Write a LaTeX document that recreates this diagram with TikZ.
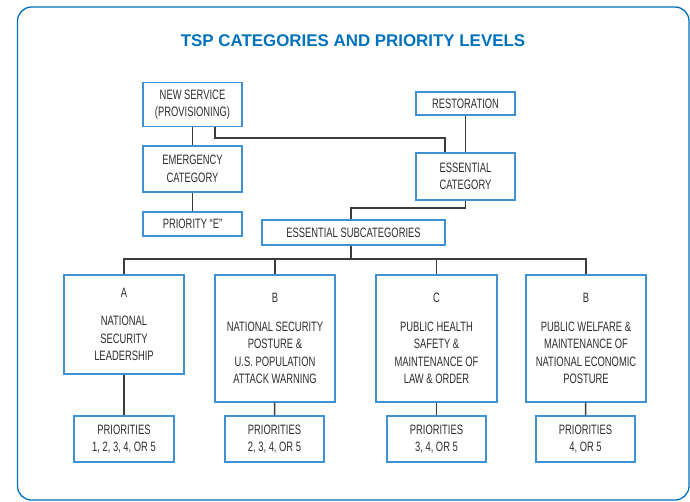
\documentclass[tikz,border=0pt]{standalone}
\usepackage{fontspec}
\setmainfont{Liberation Sans}
\newfontfamily\narrowfont{Liberation Sans}[FakeStretch=0.69]
\definecolor{tspblue}{RGB}{0,114,188}
\definecolor{boxblue}{RGB}{62,146,212}
\definecolor{inkgray}{RGB}{45,45,45}
\definecolor{linegray}{RGB}{60,60,60}
\tikzset{
	catbox/.style={draw=boxblue, line width=1.3pt, fill=white, text=inkgray, align=center,
		font=\narrowfont\fontsize{13.6}{17.5}\selectfont, inner sep=2pt, minimum width=99pt},
	link/.style={draw=linegray, line width=1.4pt},
}
\begin{document}
\begin{tikzpicture}[x=10pt,y=-10pt]
		\useasboundingbox (0,0) rectangle (69,50.1);
		\draw[tspblue, line width=1.3pt, rounded corners=14pt] (1.75,0.7) rectangle (68.9,50);
		\node[text=tspblue, font=\bfseries\fontsize{16.9}{19}\selectfont] (title) at (35.3,4.1) {TSP CATEGORIES AND PRIORITY LEVELS};
		% upper part
		\node[catbox, minimum height=44pt] (newsvc) at (19.25,10.45) {NEW SERVICE\\(PROVISIONING)};
		\node[catbox, minimum height=46pt] (emerg) at (19.25,16.9) {EMERGENCY\\CATEGORY};
		\node[catbox, minimum height=24pt] (prioE) at (19.25,22.4) {PRIORITY “E”};
		\node[catbox, minimum height=23pt] (restor) at (46.55,10.35) {RESTORATION};
		\node[catbox, minimum height=47pt] (essent) at (46.55,17.65) {ESSENTIAL\\CATEGORY};
		\node[catbox, minimum height=25pt, minimum width=183pt] (subcat) at (35.35,23.25) {ESSENTIAL SUBCATEGORIES};
		% subcategories
		\node[catbox, minimum width=120pt, minimum height=99pt] (catA) at (12.4,32.45) {A\\[11pt]NATIONAL\\SECURITY\\LEADERSHIP};
		\node[catbox, minimum width=120pt, minimum height=127pt] (catB) at (27.5,33.85) {B\\[11pt]NATIONAL SECURITY\\POSTURE \&\\U.S. POPULATION\\ATTACK WARNING};
		\node[catbox, minimum width=121pt, minimum height=127pt] (catC) at (43.65,33.85) {C\\[11pt]PUBLIC HEALTH\\SAFETY \&\\MAINTENANCE OF\\LAW \& ORDER};
		\node[catbox, minimum width=120pt, minimum height=127pt] (catD) at (58.6,33.85) {B\\[11pt]PUBLIC WELFARE \&\\MAINTENANCE OF\\NATIONAL ECONOMIC\\POSTURE};
		\node[catbox, minimum width=100pt, minimum height=46pt] (prA) at (12.4,43.9) {PRIORITIES\\1, 2, 3, 4, OR 5};
		\node[catbox, minimum height=46pt] (prB) at (27.45,43.9) {PRIORITIES\\2, 3, 4, OR 5};
		\node[catbox, minimum height=46pt] (prC) at (43.65,43.9) {PRIORITIES\\3, 4, OR 5};
		\node[catbox, minimum height=46pt] (prD) at (58.55,43.9) {PRIORITIES\\4, OR 5};
		% connectors
		\coordinate (jog) at (44.5,13.8);
		\coordinate (split) at (35.1,20.8);
		\coordinate (bus) at (0,25.9);
		\draw[link] (newsvc) -- (emerg);
		\draw[link] (emerg) -- (prioE);
		\draw[link] ([xshift=22.5pt]newsvc.south) |- (jog) -- (jog |- essent.north);
		\draw[link] (restor) -- (essent);
		\draw[link] (essent.south) |- (split) -- (split |- subcat.north);
		\draw[link] (split |- subcat.south) -- (split |- bus);
		\draw[link] (catA.north) -- (catA.north |- bus) -- (catD.north |- bus) -- (catD.north);
		\draw[link] (catB.north |- bus) -- (catB.north);
		\draw[link] (catC.north |- bus) -- (catC.north);
		\draw[link] (catA) -- (prA);
		\draw[link] (catB) -- (prB);
		\draw[link] (catC) -- (prC);
		\draw[link] (catD) -- (prD);
	\end{tikzpicture}
\end{document}
